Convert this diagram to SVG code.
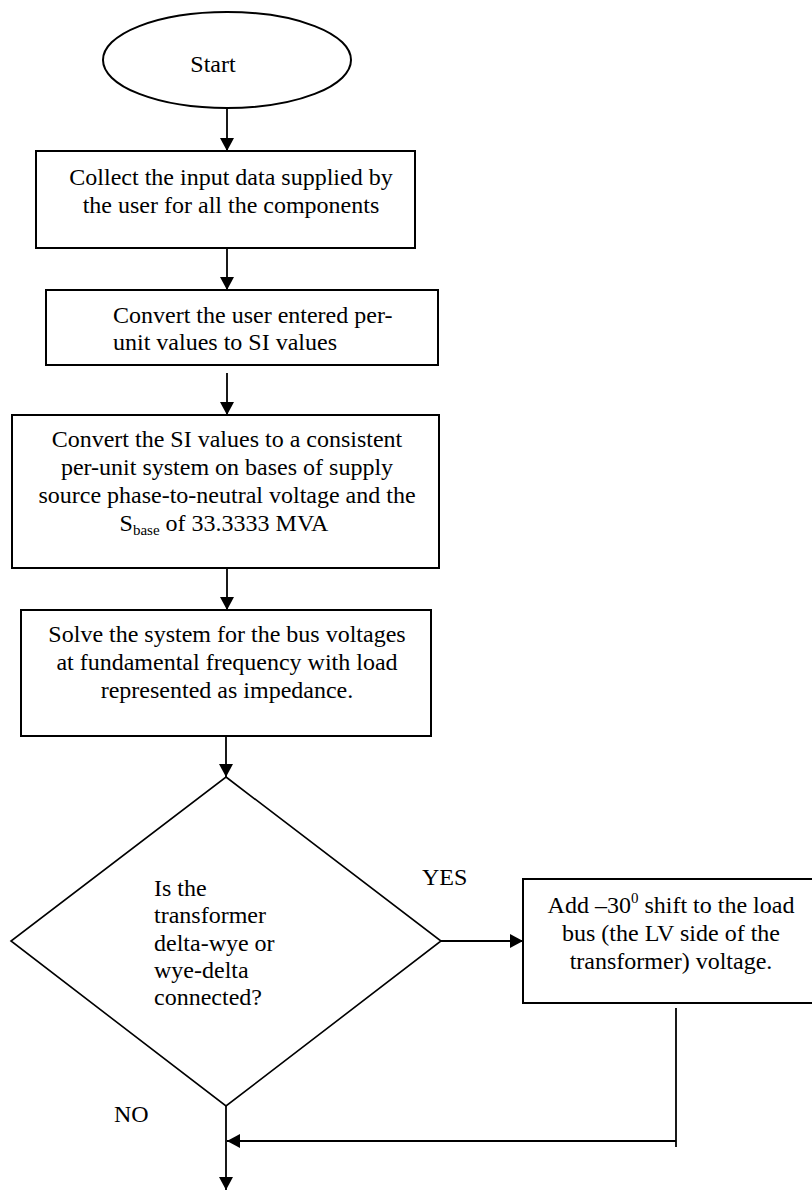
<svg xmlns="http://www.w3.org/2000/svg" width="812" height="1190" viewBox="0 0 812 1190">
  <style>
    .shape { fill: #ffffff; stroke: #000000; stroke-width: 2; }
    .thin { fill: #ffffff; stroke: #000000; stroke-width: 1.6; }
    .conn { fill: none; stroke: #000000; stroke-width: 1.8; }
    text { font-family: "Liberation Serif", "Times New Roman", Times, serif; font-size: 24px; fill: #000000; }
    .c { text-anchor: middle; }
    .sub { font-size: 15px; }
  </style>
  <defs>
    <marker id="arrow" markerUnits="userSpaceOnUse" markerWidth="14" markerHeight="14" refX="13" refY="7" orient="auto">
      <path d="M0,0 L13,7 L0,14 Z" fill="#000000"/>
    </marker>
  </defs>
  <rect width="812" height="1190" fill="#ffffff"/>

  <g id="start">
    <ellipse class="shape" cx="227" cy="60" rx="124" ry="48"/>
    <text x="213" y="72" class="c" font-size="22">Start</text>
  </g>

  <g id="collect">
    <rect class="shape" x="36" y="151" width="379" height="97"/>
    <text x="231" y="185" class="c">Collect the input data supplied by</text>
    <text x="231" y="213" class="c">the user for all the components</text>
  </g>

  <g id="to-si">
    <rect class="shape" x="46" y="290" width="392" height="75"/>
    <text x="113" y="323">Convert the user entered per-</text>
    <text x="113" y="350">unit values to SI values</text>
  </g>

  <g id="to-pu">
    <rect class="shape" x="12" y="415" width="427" height="153"/>
    <text x="227" y="447" class="c">Convert the SI values to a consistent</text>
    <text x="227" y="475" class="c">per-unit system on bases of supply</text>
    <text x="227" y="503" class="c">source phase-to-neutral voltage and the</text>
    <text x="224" y="531" class="c">S<tspan class="sub" dy="4">base</tspan><tspan dy="-4"> of 33.3333 MVA</tspan></text>
  </g>

  <g id="solve">
    <rect class="shape" x="21" y="610" width="410" height="126"/>
    <text x="227" y="642" class="c">Solve the system for the bus voltages</text>
    <text x="227" y="670" class="c">at fundamental frequency with load</text>
    <text x="227" y="698" class="c">represented as impedance.</text>
  </g>

  <g id="decision">
    <polygon class="thin" points="226,777 441,941 226,1106 11,941"/>
    <text x="154" y="896">Is the</text>
    <text x="154" y="923">transformer</text>
    <text x="154" y="951">delta-wye or</text>
    <text x="154" y="978">wye-delta</text>
    <text x="154" y="1005">connected?</text>
  </g>

  <g id="shift">
    <rect class="shape" x="523" y="879" width="300" height="124"/>
    <text x="671" y="913" class="c">Add –30<tspan class="sub" dy="-10">0</tspan><tspan dy="10"> shift to the load</tspan></text>
    <text x="671" y="941" class="c">bus (the LV side of the</text>
    <text x="671" y="969" class="c">transformer) voltage.</text>
  </g>

  <g id="labels">
    <text x="422" y="885">YES</text>
    <text x="114" y="1122">NO</text>
  </g>

  <g id="connectors">
    <line class="conn" x1="227" y1="108" x2="227" y2="151" marker-end="url(#arrow)"/>
    <line class="conn" x1="227" y1="248" x2="227" y2="290" marker-end="url(#arrow)"/>
    <line class="conn" x1="227" y1="373" x2="227" y2="415" marker-end="url(#arrow)"/>
    <line class="conn" x1="227" y1="568" x2="227" y2="610" marker-end="url(#arrow)"/>
    <line class="conn" x1="226" y1="736" x2="226" y2="777" marker-end="url(#arrow)"/>
    <line class="conn" x1="441" y1="941" x2="523" y2="941" marker-end="url(#arrow)"/>
    <line class="conn" x1="676" y1="1008" x2="676" y2="1147"/>
    <line class="conn" x1="676" y1="1141" x2="227" y2="1141" marker-end="url(#arrow)"/>
    <line class="conn" x1="226" y1="1106" x2="226" y2="1190" marker-end="url(#arrow)"/>
  </g>
</svg>
